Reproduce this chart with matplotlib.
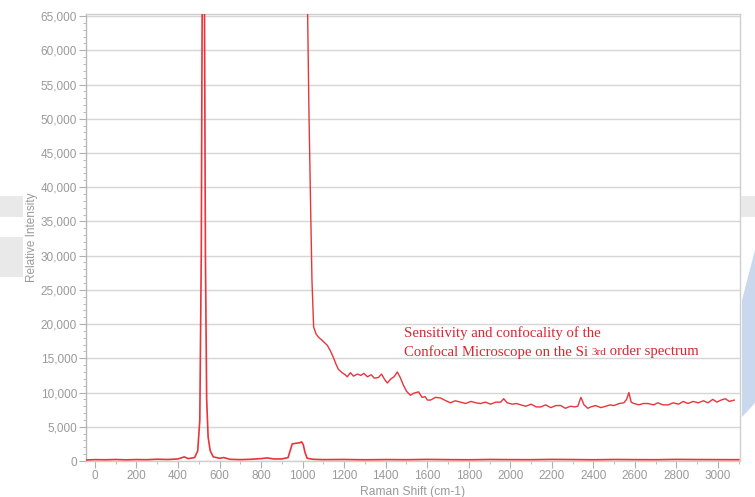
import matplotlib
matplotlib.use("Agg")
import matplotlib.pyplot as plt
from matplotlib.patches import Rectangle, Polygon
from matplotlib.ticker import FuncFormatter, MultipleLocator

# Main Si spectrum (baseline + 520 peak + ~970 band)
x1 = [-40, 0, 50, 100, 150, 200, 250, 300, 350, 400, 430, 450, 480, 495, 505, 512,
      518, 522, 527, 532, 538, 545, 555, 570, 600, 620, 650, 700, 750, 800, 830, 860,
      900, 930, 940, 950, 970, 985, 995, 1003, 1012, 1022, 1050, 1100, 1200, 1300,
      1400, 1500, 1600, 1700, 1800, 1900, 2000, 2100, 2200, 2300, 2400, 2500, 2600,
      2700, 2800, 2900, 3000, 3100]
y1 = [150, 200, 180, 220, 170, 210, 190, 260, 220, 300, 600, 350, 500, 1500, 6000, 30000,
      80000, 95000, 70000, 30000, 9000, 3500, 1500, 600, 400, 500, 250, 200, 250, 350, 450, 300,
      300, 500, 1500, 2500, 2600, 2650, 2800, 2400, 1200, 400, 250, 200, 220, 180,
      210, 190, 230, 200, 180, 220, 200, 190, 230, 210, 180, 220, 200,
      190, 230, 210, 200, 190]

# Magnified Si 3rd order spectrum
x2 = [1020, 1030, 1038, 1045, 1053, 1064, 1076, 1095, 1119, 1135, 1147, 1160, 1172, 1190,
      1205, 1215, 1230, 1245, 1264, 1280, 1295, 1312, 1330, 1345, 1365, 1380, 1395, 1408,
      1425, 1440, 1456, 1470, 1485, 1500, 1519, 1535, 1558, 1575, 1590, 1601, 1616, 1640,
      1664, 1690, 1712, 1735, 1760, 1785, 1810, 1835, 1857, 1880, 1905, 1930, 1954, 1968,
      1985, 2010, 2030, 2050, 2075, 2100, 2125, 2147, 2170, 2195, 2220, 2243, 2265, 2290,
      2310, 2325, 2340, 2355, 2373, 2388, 2410, 2436, 2460, 2480, 2499, 2525, 2547, 2560,
      2571, 2582, 2595, 2620, 2640, 2663, 2690, 2710, 2735, 2760, 2785, 2810, 2833, 2856,
      2880, 2905, 2930, 2952, 2975, 2995, 3015, 3035, 3055, 3078]
y2 = [75000, 52000, 38000, 26400, 19600, 18600, 18100, 17600, 16900, 16000, 15200, 14200, 13400, 12900,
      12600, 12300, 12900, 12400, 12700, 12500, 12800, 12300, 12600, 12100, 12200, 12700, 11900, 11400,
      12000, 12300, 13000, 12200, 11100, 10200, 9600, 9900, 10100, 9300, 9400, 8900, 8900, 9300,
      9200, 8800, 8500, 8800, 8600, 8400, 8700, 8500, 8400, 8600, 8300, 8600, 8600, 9100,
      8500, 8300, 8400, 8200, 8000, 8300, 7900, 7900, 8200, 7800, 8100, 8100, 7700, 8000,
      7900, 8000, 9300, 8200, 7700, 7900, 8100, 7800, 8000, 8200, 8100, 8400, 8500, 9000,
      10000, 8600, 8400, 8200, 8400, 8400, 8200, 8500, 8200, 8200, 8500, 8300, 8700, 8400,
      8700, 8500, 8800, 8500, 9000, 8600, 8900, 9100, 8700, 8900]

x_ticks = list(range(0, 3001, 200))
y_ticks = list(range(0, 65001, 5000))

W, H = 755, 497
fig = plt.figure(figsize=(W / 100, H / 100), dpi=100)
fig.patch.set_facecolor("white")

def fx(px):
    return px / W

def fy(py):
    return 1 - py / H

# decorative background shapes
for (x0, y0, x1_, y1_) in [(0, 196, 23, 217), (0, 237, 23, 277), (741, 196, 755, 217)]:
    fig.patches.append(Rectangle((fx(x0), fy(y1_)), fx(x1_ - x0), (y1_ - y0) / H,
                                 transform=fig.transFigure, facecolor="#e9e9e9",
                                 edgecolor="none", zorder=0))
poly = [(755, 250), (742, 300), (742, 417), (755, 403)]
fig.patches.append(Polygon([(fx(a), fy(b)) for a, b in poly], closed=True,
                           transform=fig.transFigure, facecolor="#c9d8ec",
                           edgecolor="none", zorder=0))

ax = fig.add_axes([fx(86), fy(461), fx(740 - 86), (461 - 14) / H])
ax.set_facecolor("white")
ax.set_xlim(-43, 3106)
ax.set_ylim(0, 65300)

red = "#e8353b"
ax.plot(x1, y1, color=red, lw=1.2, zorder=3)
ax.plot(x2, y2, color=red, lw=1.0, zorder=3)

ax.set_yticks(y_ticks)
ax.set_xticks(x_ticks)
ax.yaxis.set_minor_locator(MultipleLocator(1000))
ax.xaxis.set_minor_locator(MultipleLocator(100))
ax.yaxis.set_major_formatter(FuncFormatter(lambda v, p: f"{int(v):,}"))
ax.grid(axis="y", color="#d6d6d6", lw=1.0, zorder=0)

tick_col = "#9a9a9a"
ax.tick_params(axis="both", which="major", colors="#b0b0b0", labelcolor=tick_col,
               labelsize=8.5, length=5, width=0.8, pad=1.5)
ax.tick_params(axis="both", which="minor", colors="#b0b0b0", length=2.5, width=0.6)
for lab in ax.get_xticklabels() + ax.get_yticklabels():
    lab.set_family("Liberation Sans")

for s in ax.spines.values():
    s.set_color("#cfcfcf")
    s.set_linewidth(1.0)
ax.spines["left"].set_color("#b8b8b8")

ax.set_xlabel("Raman Shift (cm-1)", fontsize=8.7, color=tick_col,
              family="Liberation Sans", labelpad=3)
ax.set_ylabel("Relative Intensity", fontsize=8.5, color=tick_col,
              family="Liberation Sans", labelpad=2)

tcol = "#d42a32"
fs = 10.6
ax.text(1486, 18700, "Sensitivity and confocality of the", color=tcol,
        fontsize=fs, family="Liberation Serif", va="center", ha="left")
t1 = ax.text(1486, 15900, "Confocal Microscope on the Si ", color=tcol,
             fontsize=fs, family="Liberation Serif", va="center", ha="left")
t2 = ax.annotate("3rd", xy=(1, 0.18), xycoords=t1, color=tcol, fontsize=8,
                 family="Liberation Serif", va="bottom", ha="left")
ax.annotate(" order spectrum", xy=(1, 0), xycoords=t2, xytext=(0, -1),
            textcoords="offset points", color=tcol, fontsize=fs,
            family="Liberation Serif", va="bottom", ha="left")

fig.savefig("out.png", dpi=100)
